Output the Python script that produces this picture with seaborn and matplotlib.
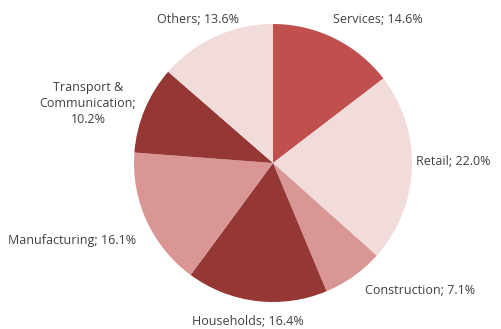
import matplotlib
matplotlib.use("Agg")
import matplotlib.pyplot as plt
import seaborn as sns

# Loan portfolio split by sector (share of total, %)
sectors = ["Services", "Retail", "Construction", "Households",
           "Manufacturing", "Transport &\nCommunication", "Others"]
shares = [14.6, 22.0, 7.1, 16.4, 16.1, 10.2, 13.6]

sns.set_theme(style="white")
plt.rcParams["font.family"] = ["Open Sans", "DejaVu Sans"]

palette = sns.color_palette(["#C0504D", "#F2DCDB", "#D99694", "#953735",
                             "#D99694", "#953735", "#F2DCDB"])

fig = plt.figure(figsize=(5.01, 3.29), dpi=100)
ax = fig.add_axes([134 / 501, 27 / 329, 278 / 501, 278 / 329])

wedges, _ = ax.pie(shares, colors=palette, startangle=90, counterclock=False,
                   radius=1.0, wedgeprops=dict(linewidth=0))
ax.set_xlim(-1, 1)
ax.set_ylim(-1, 1)
ax.set_aspect("equal")
ax.axis("off")

# label anchor points around the pie (axes data units)
label_pos = [(0.755, 1.03), (1.30, 0.014), (1.058, -0.914), (-0.18, -1.137),
             (-1.446, -0.561), (-1.331, 0.43), (-0.54, 1.03)]
for name, val, (lx, ly) in zip(sectors, shares, label_pos):
    sep = "\n" if "\n" in name else " "
    text = f"{name};{sep}{val:.1f}%"
    ax.text(lx, ly, text, ha="center", va="center", fontsize=9.0,
            color="#404040", linespacing=1.3)

fig.savefig("out.png", dpi=100, facecolor="white")
